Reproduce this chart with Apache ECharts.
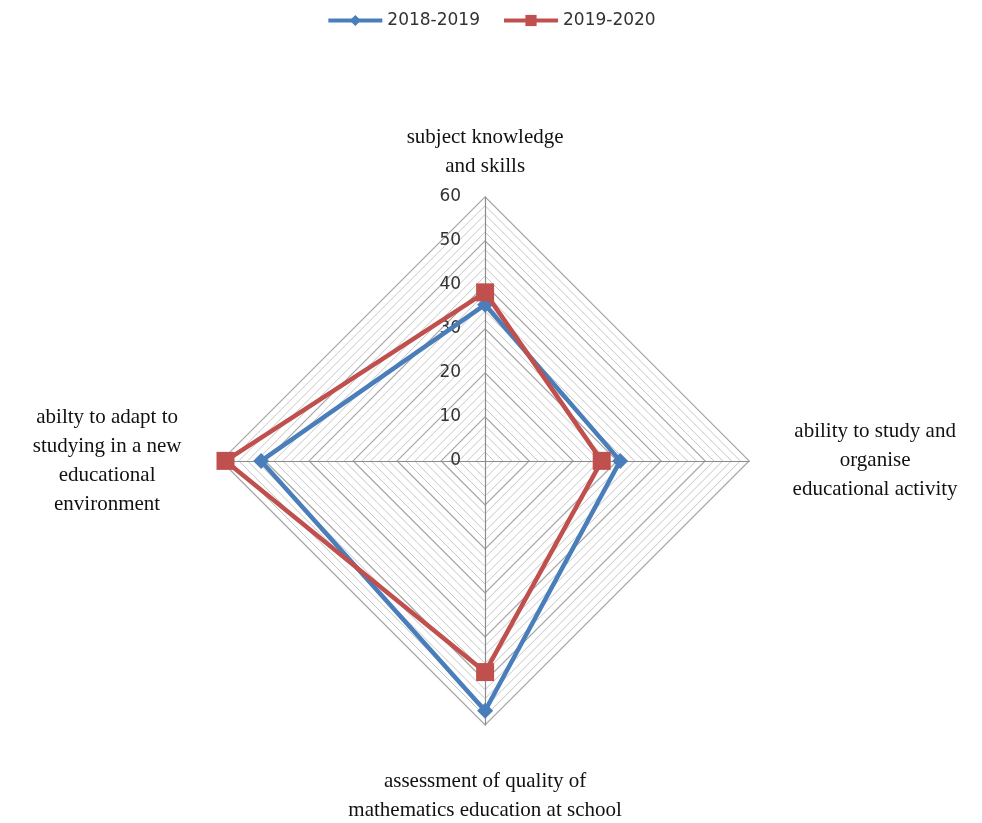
<!DOCTYPE html>
<html>
<head>
<meta charset="utf-8">
<script src="https://cdn.jsdelivr.net/npm/echarts@6/dist/echarts.min.js"></script>
<style>
  html, body { margin: 0; padding: 0; background: #fff; }
  #chart { width: 982px; height: 823px; }
</style>
</head>
<body>
<div id="chart"></div>
<script>
// indicator names, counter-clockwise from the top (how echarts lays them out)
const indicators = [
  ['subject knowledge', 'and skills'],
  ['abilty to adapt to', 'studying in a new', 'educational', 'environment'],
  ['assessment of quality of', 'mathematics education at school'],
  ['ability to study and', 'organise', 'educational activity']
];
const seriesNames = ['2018-2019', '2019-2020'];
const values2018 = [35.5, 50.9, 56.8, 30.7];
const values2019 = [38.3, 59, 48, 26.5];
const tickMax = 60;

const chart = echarts.init(document.getElementById('chart'));

const center = ['49.4%', '56%'];
const radius = 264;

const nameFont = {
  fontFamily: 'Liberation Serif',
  fontSize: 21,
  lineHeight: 29,
  color: '#111',
  align: 'center'
};

const option = {
  backgroundColor: '#fff',
  legend: {
    top: 7,
    left: 'center',
    itemWidth: 54,
    itemHeight: 14,
    itemGap: 22,
    data: seriesNames,
    lineStyle: { width: 4 },
    textStyle: { fontFamily: 'DejaVu Sans', fontSize: 17, color: '#333' }
  },
  // hidden grid only so the legend gets line+symbol icons
  grid: { show: false, left: 0, top: 0, width: 1, height: 1 },
  xAxis: { show: false, type: 'category', data: [] },
  yAxis: { show: false, type: 'value' },
  radar: [
    {
      center: center,
      radius: radius,
      startAngle: 90,
      shape: 'polygon',
      splitNumber: 30,
      indicator: indicators.map(l => ({ name: l.join('\n'), max: tickMax, min: 0 })),
      axisName: {
        formatter: function (name) {
          const key = name.indexOf('abilty') === 0 ? 'l' : 'c';
          const lines = name.split('\n').map(s => '{' + key + '|' + s + '}');
          // bottom label sits further from the axis end
          if (name.indexOf('assessment') === 0) lines.unshift('{s| }');
          return lines.join('\n');
        },
        rich: {
          c: Object.assign({ width: 220 }, nameFont),
          l: Object.assign({ width: 196 }, nameFont),
          s: { fontSize: 10, lineHeight: 26 }
        }
      },
      nameGap: 16,
      splitArea: { show: false },
      splitLine: { lineStyle: { color: '#c6c6c6', width: 1 } },
      axisLine: { lineStyle: { color: '#8c8c8c', width: 1.2 } }
    },
    {
      center: center,
      radius: radius,
      startAngle: 90,
      shape: 'polygon',
      splitNumber: 6,
      indicator: indicators.map((l, i) => ({
        name: '',
        max: tickMax,
        min: 0,
        axisLabel: i === 0 ? {
          show: true,
          margin: 24,
          fontFamily: 'DejaVu Sans',
          fontSize: 17,
          color: '#333'
        } : undefined
      })),
      axisName: { show: false },
      splitArea: { show: false },
      splitLine: { lineStyle: { color: '#a6a6a6', width: 1.2 } },
      axisLine: { show: false }
    }
  ],
  series: [
    {
      name: seriesNames[0], type: 'line', data: [], symbol: 'diamond', symbolSize: 12,
      itemStyle: { color: '#4a7ebb' }, lineStyle: { width: 4 }
    },
    {
      name: seriesNames[1], type: 'line', data: [], symbol: 'rect', symbolSize: 14,
      itemStyle: { color: '#c0504d' }, lineStyle: { width: 4 }
    },
    {
      name: seriesNames[0],
      type: 'radar',
      radarIndex: 0,
      z: 3,
      symbol: 'diamond',
      symbolSize: 16,
      itemStyle: { color: '#4a7ebb' },
      lineStyle: { color: '#4a7ebb', width: 4.5 },
      data: [{ name: seriesNames[0], value: values2018 }]
    },
    {
      name: seriesNames[1],
      type: 'radar',
      radarIndex: 0,
      z: 4,
      symbol: 'rect',
      symbolSize: 18,
      itemStyle: { color: '#c0504d' },
      lineStyle: { color: '#c0504d', width: 4.5 },
      data: [{ name: seriesNames[1], value: values2019 }]
    }
  ]
};

chart.setOption(option);
</script>
</body>
</html>
